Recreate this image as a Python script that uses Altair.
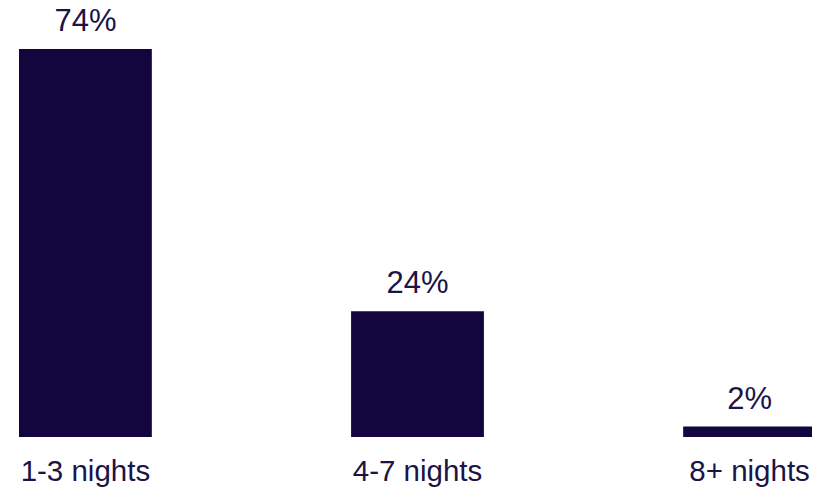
import altair as alt
import pandas as pd

categories = ["1-3 nights", "4-7 nights", "8+ nights"]
values = [74, 24, 2]
labels = ["74%", "24%", "2%"]

df = pd.DataFrame({"cat": categories, "val": values, "lab": labels})

BAR = "#13063F"
TXT = "#1B1446"
FONT = "Liberation Sans"

base = alt.Chart(df).encode(
    x=alt.X("cat:N", sort=categories,
            scale=alt.Scale(paddingInner=0.6, paddingOuter=0, range=[0, 797]),
            axis=alt.Axis(title=None, labelAngle=0, ticks=False, domain=False,
                          labelFont=FONT, labelFontSize=29.5, labelColor=TXT,
                          labelPadding=20, grid=False)),
    y=alt.Y("val:Q", scale=alt.Scale(domain=[0, 74], nice=False), axis=None),
)

bars = base.mark_bar(color=BAR)
text = base.mark_text(baseline="alphabetic", dy=-18, font=FONT, fontSize=31,
                      color=TXT).encode(text="lab:N")

chart = (bars + text).properties(
    width=793, height=388,
    autosize=alt.AutoSizeParams(type="none"),
    padding={"left": 11, "top": 41, "right": 0, "bottom": 52},
).configure_view(stroke=None)

chart.save("out.html", embed_options={"renderer": "svg", "actions": False})
